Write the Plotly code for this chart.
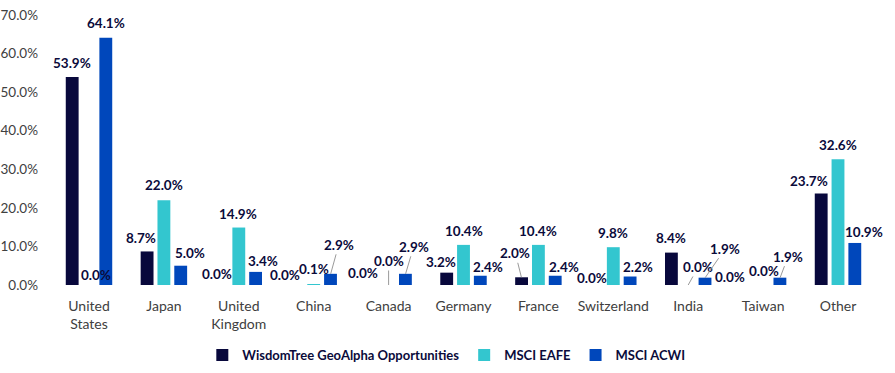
import plotly.graph_objects as go

categories = ["United<br>States", "Japan", "United<br>Kingdom", "China", "Canada",
              "Germany", "France", "Switzerland", "India", "Taiwan", "Other"]
wt_values = [53.9, 8.7, 0.0, 0.0, 0.0, 3.2, 2.0, 0.0, 8.4, 0.0, 23.7]
eafe_values = [0.0, 22.0, 14.9, 0.1, 0.0, 10.4, 10.4, 9.8, 0.0, 0.0, 32.6]
acwi_values = [64.1, 5.0, 3.4, 2.9, 2.9, 2.4, 2.4, 2.2, 1.9, 1.9, 10.9]
series_names = ["WisdomTree GeoAlpha Opportunities", "MSCI EAFE", "MSCI ACWI"]
series_colors = ["#08083C", "#33C6CF", "#0047BB"]
y_ticks = [0, 10, 20, 30, 40, 50, 60, 70]

# label placement tweaks in pixels: (dx, dy up, leader line?)
label_offsets = [
    [(0, 14, 0), (-6, 13, 0), (-5, 11, 0), (-12, 10, 0), (-9, 12, 0), (-6, 11, 0),
     (-6, 24, 1), (-4, 7, 0), (0, 15, 0), (-16, 8, 0), (-12, 13, 0)],
    [(7, 10, 0), (0, 15, 0), (-1, 14, 0), (0, 16, 0), (0, 24, 1), (0, 14, 0),
     (0, 14, 0), (0, 14, 0), (10, 18, 1), (1, 14, 0), (0, 14, 0)],
    [(0, 15, 0), (9, 13, 0), (7, 11, 0), (8, 29, 1), (8, 27, 1), (7, 9, 0),
     (9, 9, 0), (8, 10, 0), (20, 29, 1), (8, 21, 1), (9, 11, 0)],
]

all_values = [wt_values, eafe_values, acwi_values]

fig = go.Figure()
for name, vals, col in zip(series_names, all_values, series_colors):
    fig.add_trace(go.Bar(x=categories, y=vals, name=name, marker_color=col,
                         marker_line_width=0))

slot_px = 17
font_family = "Lato, 'Open Sans', sans-serif"
annotations = []
for si, vals in enumerate(all_values):
    shift = (si - 1) * slot_px
    for ci, v in enumerate(vals):
        dx, dy, leader = label_offsets[si][ci]
        text = f"{v:.1f}%"
        common = dict(x=categories[ci], y=v, xref="x", yref="y", text=text,
                      font=dict(family=font_family, size=13.5, color="#0B0B3B", weight="bold"))
        if leader:
            annotations.append(dict(**common, showarrow=True, xshift=shift,
                                    ax=dx, ay=-dy, arrowhead=0, arrowwidth=0.8,
                                    arrowcolor="#7F7F7F", standoff=0, startstandoff=0))
        else:
            annotations.append(dict(**common, showarrow=False, xshift=shift + dx, yshift=dy))

fig.update_layout(
    width=895, height=373,
    margin=dict(l=51, r=10, t=15, b=88, autoexpand=False),
    paper_bgcolor="white", plot_bgcolor="white",
    barmode="group", bargap=0.327, bargroupgap=0.235,
    font=dict(family=font_family, size=13.5, color="#404040"),
    annotations=annotations,
    legend=dict(orientation="h", x=0.474, xanchor="center",
                y=0.048, yref="container", yanchor="middle",
                font=dict(family=font_family, size=13, color="#0B0B3B", weight="bold"),
                itemwidth=30, traceorder="normal"),
    showlegend=True,
)
fig.update_yaxes(range=[0, 70], tickvals=y_ticks, ticktext=[f"{t:.1f}%" for t in y_ticks],
                 showgrid=False, zeroline=False, showline=False, ticklabelstandoff=12,
                 automargin=False, tickfont=dict(color="#404040", size=13.5))
fig.update_xaxes(showgrid=False, showline=False, ticks="", ticklabelstandoff=11,
                 automargin=False, tickfont=dict(color="#404040", size=14))

fig.write_html("out.html")
